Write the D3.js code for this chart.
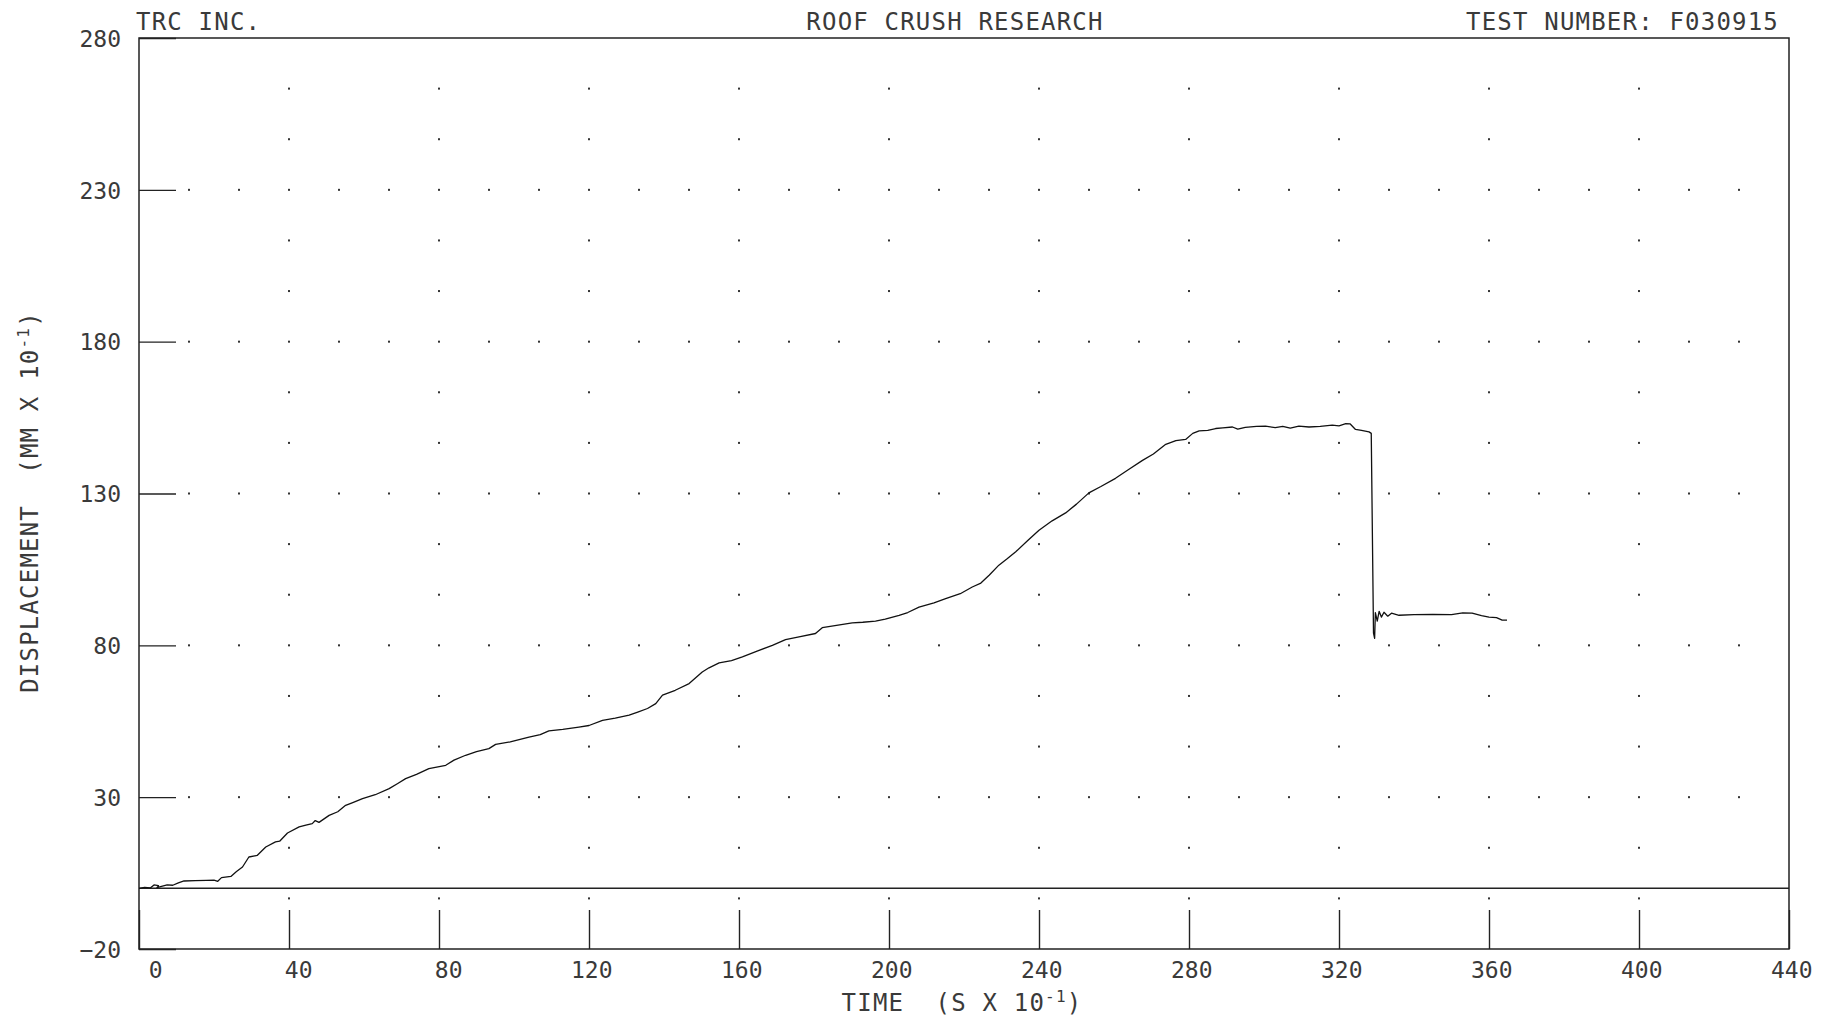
<!DOCTYPE html>
<html>
<head>
<meta charset="utf-8">
<script src="https://cdn.jsdelivr.net/npm/d3@7"></script>
<style>
  body { margin: 0; background: #fff; }
  text { font-family: "DejaVu Sans Mono", monospace; fill: #3a3a3a; white-space: pre; }
</style>
</head>
<body>
<svg id="chart" width="1822" height="1019"></svg>
<script>
// tick values
const xTicks = [0, 40, 80, 120, 160, 200, 240, 280, 320, 360, 400, 440];
const yTicks = [-20, 30, 80, 130, 180, 230, 280];

// header texts
const headerLeft = "TRC INC.";
const headerMid = "ROOF CRUSH RESEARCH";
const headerRight = "TEST NUMBER: F030915";

// displacement trace: [time (s x 10^-1), displacement (mm x 10^-1)]
const crushData = [
  [0, 0], [1.5, 0.3], [3, 0.1], [4, 1.1], [5.2, 0.9], [4.8, 0.2], [6, 0.6], [7.5, 1.1],
  [9, 1.0], [10.5, 1.8], [12, 2.4], [15, 2.5], [18, 2.6], [20, 2.7], [21, 2.3],
  [22, 3.5], [24.5, 3.9], [26, 5.5], [27.6, 7.0], [29.3, 10.3], [31.5, 10.8],
  [33.8, 13.6], [36.4, 15.3], [37.5, 15.5], [39.6, 18.2], [42.7, 20.2], [44.5, 20.8],
  [46.2, 21.3], [47, 22.3], [48, 21.7], [50.7, 24], [53, 25.2], [55.1, 27.3],
  [57, 28.2], [59.6, 29.5], [63, 30.8], [66.7, 32.8], [69, 34.5], [71.1, 36.1],
  [74, 37.5], [77.3, 39.4], [81.8, 40.5], [84, 42.2], [87.1, 43.8], [90, 45],
  [93.3, 46], [95.1, 47.4], [99, 48.2], [104, 49.8], [107, 50.6], [109.3, 51.8],
  [113, 52.3], [117.3, 53.1], [120, 53.6], [123.6, 55.3], [127, 56], [130.7, 57],
  [133, 58], [135.6, 59.2], [137.8, 60.8], [139.6, 63.6], [143, 65.2], [146.7, 67.4],
  [150.2, 71.2], [152, 72.6], [154.7, 74.2], [158, 75], [160.9, 76.2], [165, 78.2],
  [168.9, 80], [172.4, 81.9], [176, 82.8], [180.4, 83.9], [182.2, 85.8], [186, 86.6],
  [190.2, 87.4], [193, 87.6], [196.4, 88], [199, 88.6], [202.7, 89.9], [205, 90.8],
  [208, 92.6], [212, 94], [215.1, 95.4], [219, 97], [222.2, 99.2], [224.5, 100.5],
  [226.7, 103.1], [229.3, 106.4], [231.5, 108.5], [233.8, 110.8], [237, 114.5],
  [240, 117.9], [243.5, 121], [247.1, 123.6], [250, 126.5], [253.3, 130.2],
  [256.5, 132.3], [260.4, 135], [264, 138], [267.6, 140.9], [270.5, 143],
  [273.8, 146.2], [276.5, 147.4], [279.1, 147.8], [281, 149.8], [282.7, 150.6],
  [285, 150.8], [287.1, 151.4], [289, 151.6], [291.6, 151.9], [293, 151.2],
  [295, 151.8], [298, 152.1], [300.4, 152.2], [303, 151.7], [305, 152.1],
  [307, 151.5], [309.3, 152.2], [312, 151.9], [315, 152.1], [318.2, 152.5],
  [320, 152.3], [321.8, 153], [323, 152.9], [324.4, 151.1], [326, 150.8],
  [328, 150.3], [328.6, 149.8], [329.2, 84], [329.5, 82.3], [329.7, 90.8],
  [330.2, 88], [330.7, 91.2], [331.3, 89.3], [332, 90.9], [333, 89.6], [334, 90.6],
  [336, 89.9], [340, 90.1], [345, 90.2], [350, 90.1], [353, 90.7], [355.5, 90.6],
  [358, 89.8], [360, 89.3], [362, 89.1], [363.5, 88.3], [364.8, 88.3]
];

const svg = d3.select("#chart");

const x = d3.scaleLinear().domain([0, 440]).range([139, 1789]);
const y = d3.scaleLinear().domain([-20, 280]).range([949, 38]);

// grid dots: major rows carry dots at every third of an x division,
// the other rows only on the major x columns
const xStep = 40 / 3, yStep = 50 / 3;
const dotRows = d3.range(1, 18).map(k => 280 - k * yStep);
const dots = [];
dotRows.forEach((v, k) => {
  const major = (k + 1) % 3 === 0 && v > -19;
  const cols = major
    ? d3.range(1, 33).map(i => i * xStep)
    : xTicks.filter(t => t > 0 && t < 440);
  cols.forEach(t => dots.push([t, v]));
});

svg.append("g").selectAll("rect")
  .data(dots)
  .join("rect")
  .attr("x", d => x(d[0]) - 1)
  .attr("y", d => y(d[1]) - 1)
  .attr("width", 2)
  .attr("height", 2)
  .attr("fill", "#333");

// frame
svg.append("rect")
  .attr("x", x(0)).attr("y", y(280))
  .attr("width", x(440) - x(0)).attr("height", y(-20) - y(280))
  .attr("fill", "none").attr("stroke", "#222").attr("stroke-width", 1.5);

// zero line
svg.append("line")
  .attr("x1", x(0)).attr("x2", x(440))
  .attr("y1", y(0)).attr("y2", y(0))
  .attr("stroke", "#222").attr("stroke-width", 1.5);

// x axis, ticks pointing up into the plot
const xAxis = svg.append("g")
  .attr("transform", `translate(0,${y(-20)})`)
  .call(d3.axisBottom(x).tickValues(xTicks).tickSize(-39).tickFormat(d3.format("d")));
xAxis.select(".domain").remove();
xAxis.selectAll("line").attr("stroke", "#222").attr("stroke-width", 1.4);
xAxis.selectAll("text")
  .attr("font-size", 23)
  .attr("text-anchor", "end")
  .attr("x", 23)
  .attr("y", 29)
  .attr("dy", null);

// y axis, ticks pointing right into the plot
const yAxis = svg.append("g")
  .attr("transform", `translate(${x(0)},0)`)
  .call(d3.axisLeft(y).tickValues(yTicks).tickSize(-37).tickFormat(d3.format("d")));
yAxis.select(".domain").remove();
yAxis.selectAll("line").attr("stroke", "#222").attr("stroke-width", 1.4);
yAxis.selectAll("text")
  .attr("font-size", 23)
  .attr("x", -18)
  .attr("dy", "0.36em");

// displacement trace
const line = d3.line().x(d => x(d[0])).y(d => y(d[1]));
svg.append("path")
  .datum(crushData)
  .attr("d", line)
  .attr("fill", "none")
  .attr("stroke", "#111")
  .attr("stroke-width", 1.3)
  .attr("stroke-linejoin", "round");

// header
const head = { "font-size": 24, "letter-spacing": 1.2 };
function styled(sel, attrs) {
  Object.entries(attrs).forEach(([k, v]) => sel.attr(k, v));
  return sel;
}
styled(svg.append("text"), head).attr("x", 136).attr("y", 30).text(headerLeft);
styled(svg.append("text"), head).attr("x", 955).attr("y", 30)
  .attr("text-anchor", "middle").text(headerMid);
styled(svg.append("text"), head).attr("x", 1779).attr("y", 30)
  .attr("text-anchor", "end").text(headerRight);

// axis titles with superscript exponent
function axisTitle(sel, main) {
  sel.append("tspan").text(main);
  sel.append("tspan").attr("font-size", 16).attr("dy", -9).text("-1");
  sel.append("tspan").attr("dy", 9).text(")");
}

const xt = styled(svg.append("text"), head)
  .attr("x", 962).attr("y", 1011).attr("text-anchor", "middle");
axisTitle(xt, "TIME  (S X 10");

const yt = styled(svg.append("text"), head)
  .attr("transform", "translate(38,502) rotate(-90)")
  .attr("text-anchor", "middle");
axisTitle(yt, "DISPLACEMENT  (MM X 10");
</script>
</body>
</html>
